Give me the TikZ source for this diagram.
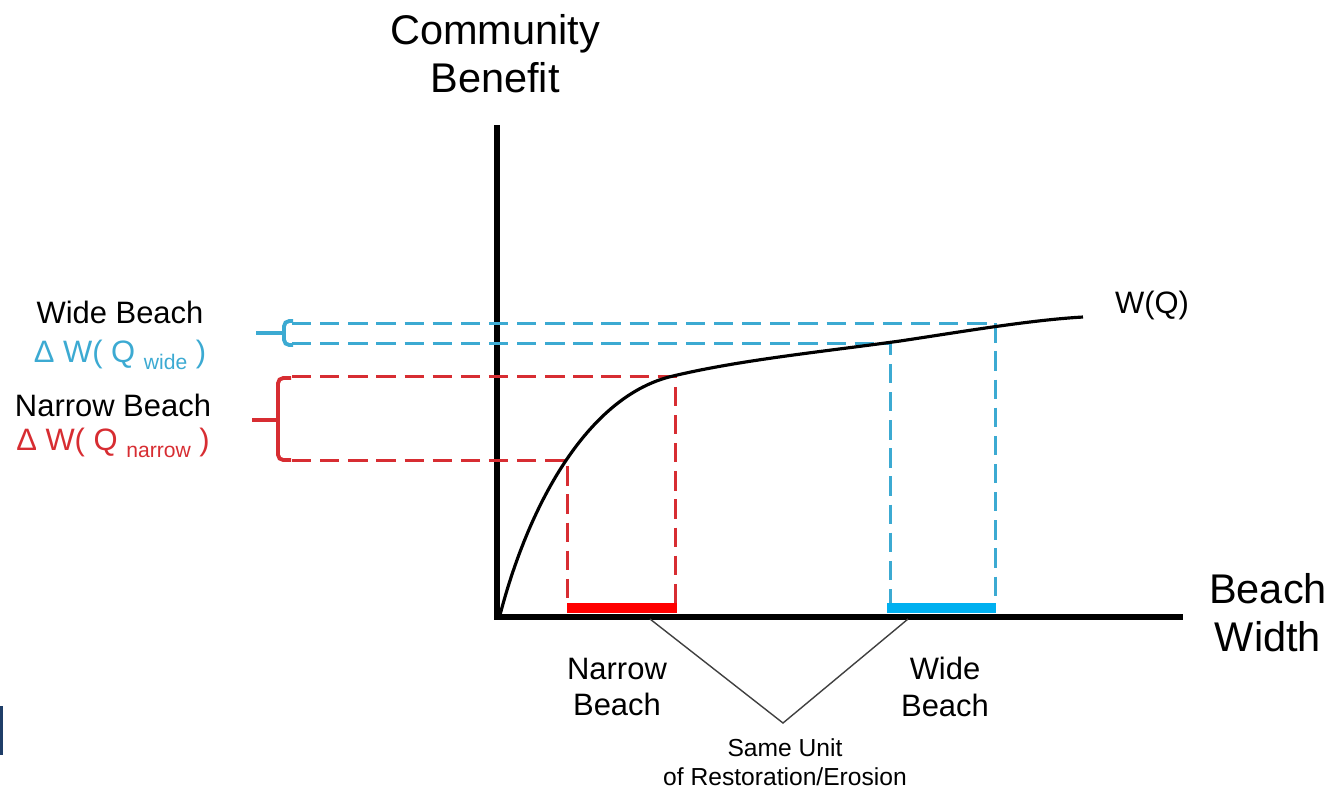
\documentclass[tikz,border=0pt]{standalone}
\usepackage{fontspec}
\setmainfont{Liberation Sans}
\usetikzlibrary{positioning}
\definecolor{wideblue}{RGB}{60,170,210}
\definecolor{widebar}{RGB}{0,176,240}
\definecolor{narrowred}{RGB}{215,45,50}
\definecolor{slidenavy}{RGB}{31,62,104}
\tikzstyle{axis} = [line width=1.5pt]
\tikzstyle{curve} = [line width=0.9pt]
\tikzstyle{guide} = [line width=0.85pt, dash pattern=on 5.5pt off 2.5pt]
\tikzstyle{bracket} = [line width=1.1pt, rounded corners=1.5pt]
\tikzstyle{bigtext} = [align=center, inner sep=0pt, font=\fontsize{11.8}{13.7}\selectfont]
\tikzstyle{midtext} = [align=center, inner sep=0pt, font=\fontsize{8.8}{10.5}\selectfont]
\tikzstyle{smalltext} = [align=center, inner sep=0pt, font=\fontsize{7}{8.3}\selectfont]
\tikzstyle{pointer} = [line width=0.4pt, black!75]
\newcommand{\lowsub}[1]{\raisebox{-0.45ex}{\fontsize{6}{7}\selectfont #1}}

\begin{document}
\begin{tikzpicture}[x=0.01cm, y=-0.01cm]
\useasboundingbox (0,0) rectangle (1330,790);

% Slide edge
\fill[slidenavy] (0,706) rectangle (3,755);

% Axes
\coordinate (O) at (497,617);
\draw[axis] (497,125) -- (O) -- (1183,617);

% Axis labels
\node (ylab) [bigtext] at (495,54) {Community\\Benefit};
\node (xlab) [bigtext] at (1268,613) {Beach\\Width};

% Guides (narrow beach)
\draw[guide, narrowred] (292,460) -- (567,460) -- (567,604);
\draw[guide, narrowred] (292,376) -- (675,376) -- (675,604);

% Guides (wide beach)
\draw[guide, wideblue] (292,323) -- (995,323) -- (995,604);
\draw[guide, wideblue] (292,343) -- (890,343) -- (890,604);

% Benefit curve
\draw[curve] (500,615) .. controls (530,500) and (590,395) .. (673,376)
  .. controls (740,360) and (820,352) .. (900,341)
  .. controls (960,332) and (1030,320) .. (1083,317);
\node (wq) [midtext] at (1152,305) {W(Q)};

% Beach units on the axis
\fill[red] (567,603) rectangle (677,613);
\fill[widebar] (887,603) rectangle (996,613);

% Brackets
\draw[bracket, wideblue] (293,321) -- (284,321) -- (284,345) -- (293,345);
\draw[bracket, wideblue] (256,333) -- (284,333);
\draw[bracket, narrowred] (291,378) -- (278,378) -- (278,460) -- (291,460);
\draw[bracket, narrowred] (252,420) -- (278,420);

% Left labels
\node (wide) [midtext] at (120,312) {Wide Beach};
\node (dwide) [midtext, text=wideblue] at (120,355) {Δ W( Q \lowsub{wide} )};
\node (narrow) [midtext] at (113,405) {Narrow Beach};
\node (dnarrow) [midtext, text=narrowred] at (113,443) {Δ W( Q \lowsub{narrow} )};

% Bottom labels
\node (narrowlab) [midtext] at (617,687) {Narrow\\Beach};
\node (widelab) [midtext] at (945,687) {Wide\\Beach};
\node (unit) [smalltext] at (785,762) {Same Unit\\of Restoration/Erosion};

% Pointers
\coordinate (narrowfoot) at (650,619);
\coordinate (widefoot) at (908,619);
\coordinate (apex) at (783,723);
\draw[pointer] (narrowfoot) -- (apex) -- (widefoot);

\end{tikzpicture}
\end{document}
